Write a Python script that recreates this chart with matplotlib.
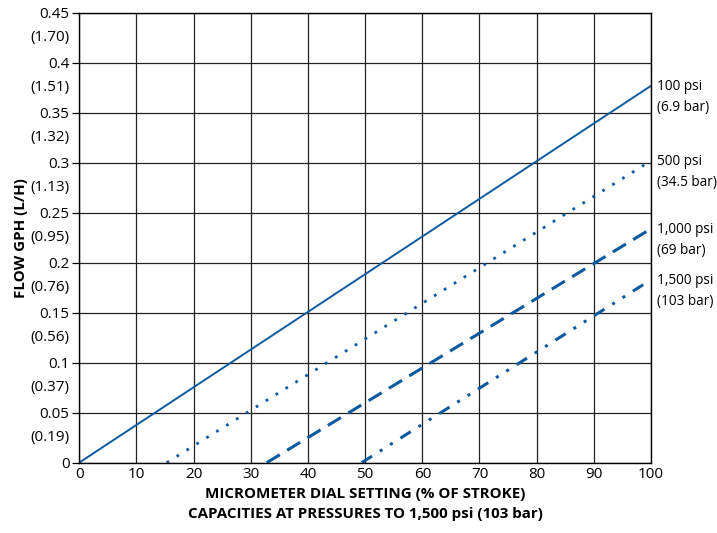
import matplotlib
matplotlib.use("Agg")
import matplotlib.pyplot as plt

plt.rcParams['font.family'] = ['Open Sans', 'DejaVu Sans']

# Data
series_labels = ["100 psi\n(6.9 bar)", "500 psi\n(34.5 bar)", "1,000 psi\n(69 bar)", "1,500 psi\n(103 bar)"]
x_100 = [0, 100];    y_100 = [0, 0.377]
x_500 = [15.3, 100]; y_500 = [0, 0.302]
x_1000 = [32.8, 100]; y_1000 = [0, 0.234]
x_1500 = [49.4, 100]; y_1500 = [0, 0.183]

y_ticks = [0, 0.05, 0.1, 0.15, 0.2, 0.25, 0.3, 0.35, 0.4, 0.45]
y_tick_labels = ["0", "0.05", "0.1", "0.15", "0.2", "0.25", "0.3", "0.35", "0.4", "0.45"]
y_sub_labels = ["", "(0.19)", "(0.37)", "(0.56)", "(0.76)", "(0.95)", "(1.13)", "(1.32)", "(1.51)", "(1.70)"]
x_ticks = [0, 10, 20, 30, 40, 50, 60, 70, 80, 90, 100]

blue = "#0d5aa0"
fs = 11

fig = plt.figure(figsize=(7.17, 5.33), dpi=100)
ax = fig.add_axes([0.1105, 0.132, 0.7975, 0.844])

ax.plot(x_100, y_100, color=blue, lw=1.4, linestyle='-')
ax.plot(x_500, y_500, color=blue, lw=2.0, linestyle=(0, (1, 3.2)))
ax.plot(x_1000, y_1000, color=blue, lw=2.2, linestyle=(0, (5, 2.8)))
ax.plot(x_1500, y_1500, color=blue, lw=2.2, linestyle=(0, (4, 3, 1, 3, 1, 3)))

ax.set_xlim(0, 100)
ax.set_ylim(0, 0.45)
ax.set_xticks(x_ticks)
ax.set_xticklabels([str(v) for v in x_ticks], fontsize=fs)
ax.set_yticks(y_ticks)
ax.set_yticklabels(y_tick_labels, fontsize=fs)
ax.tick_params(axis='x', length=0, pad=3)
ax.tick_params(axis='y', length=5, width=0.9, pad=2, direction='out')

ax.grid(True, color='#222222', lw=0.9)
ax.set_axisbelow(True)
for s in ax.spines.values():
    s.set_linewidth(1.0)
    s.set_color('black')

for yv, sub in zip(y_ticks, y_sub_labels):
    if sub:
        ax.annotate(sub, xy=(0, yv), xycoords=('axes fraction', 'data'),
                    xytext=(-7, -18), textcoords='offset points',
                    ha='right', va='center', fontsize=fs)

ends = [y_100[-1], y_500[-1], y_1000[-1], y_1500[-1]]
for lab, yv in zip(series_labels, ends):
    ax.annotate(lab, xy=(1, yv), xycoords=('axes fraction', 'data'),
                xytext=(4, -8), textcoords='offset points',
                ha='left', va='center', fontsize=9.8, linespacing=1.55,
                annotation_clip=False)

ax.set_ylabel("FLOW GPH (L/H)", fontsize=10.9, fontweight='bold', labelpad=8)
ax.set_xlabel("MICROMETER DIAL SETTING (% OF STROKE)\nCAPACITIES AT PRESSURES TO 1,500 psi (103 bar)",
              fontsize=10.9, fontweight='bold', labelpad=4, linespacing=1.55)

fig.savefig("out.png", dpi=100)
